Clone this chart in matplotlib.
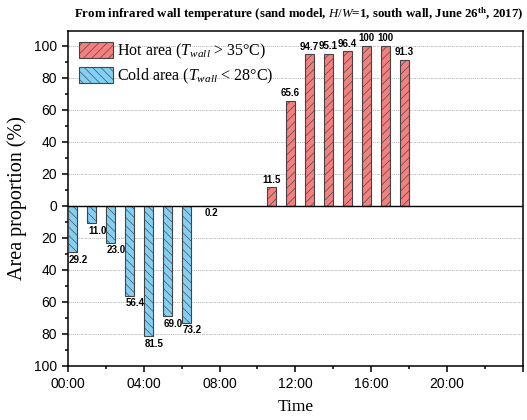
import numpy as np
import matplotlib.pyplot as plt
from matplotlib.patches import Patch
from matplotlib.ticker import MultipleLocator

plt.rcParams['font.family'] = 'Liberation Sans'
plt.rcParams['mathtext.fontset'] = 'custom'
plt.rcParams['mathtext.rm'] = 'Liberation Serif'
plt.rcParams['mathtext.it'] = 'Liberation Serif:italic'
plt.rcParams['mathtext.bf'] = 'Liberation Serif:bold'
plt.rcParams['hatch.linewidth'] = 0.45

# hour of day where each bar starts
cold_hours = [0, 1, 2, 3, 4, 5, 6, 7]
cold_vals = [29.2, 11.0, 23.0, 56.4, 81.5, 69.0, 73.2, 0.2]
hot_hours = [10.5, 11.5, 12.5, 13.5, 14.5, 15.5, 16.5, 17.5]
hot_vals = [11.5, 65.6, 94.7, 95.1, 96.4, 100, 100, 91.3]
hot_labels = ['11.5', '65.6', '94.7', '95.1', '96.4', '100', '100', '91.3']

hot_col = '#f47f7f'
cold_col = '#84d0f5'
edge = '#444444'
w = 0.5

fig = plt.figure(figsize=(5.27, 4.2), dpi=100)
ax = fig.add_axes([0.129, 0.129, 0.863, 0.798])

ax.bar(hot_hours, hot_vals, width=w, align='edge', color=hot_col,
       edgecolor=edge, linewidth=0.8, hatch='////', zorder=3)
ax.bar(cold_hours, -np.array(cold_vals), width=w, align='edge', color=cold_col,
       edgecolor=edge, linewidth=0.8, hatch='\\\\\\\\', zorder=3)

for x, v, s in zip(hot_hours, hot_vals, hot_labels):
    ax.text(x + w / 2, v + 1.5, s, ha='center', va='bottom',
            fontsize=7, fontweight='bold')
for x, v in zip(cold_hours, cold_vals):
    ax.text(x + w / 2 + 0.3, -v - 1.5, f'{v:.1f}', ha='center', va='top',
            fontsize=7, fontweight='bold')

ax.axhline(0, color='black', lw=1.0, zorder=4)
for y in [-80, -60, -40, -20, 20, 40, 60, 80, 100]:
    ax.axhline(y, color='#b4b4b4', lw=0.6, ls=(0, (2, 1, 1, 1)), zorder=1)

ax.set_xlim(0, 24)
ax.set_ylim(-100, 109.4)
ax.set_xticks(np.arange(0, 25, 4))
ax.set_xticklabels(['00:00', '04:00', '08:00', '12:00', '16:00', '20:00', ''])
ax.xaxis.set_minor_locator(MultipleLocator(2))
ax.set_yticks(np.arange(-100, 101, 20))
ax.set_yticklabels([str(abs(t)) for t in range(-100, 101, 20)])
ax.yaxis.set_minor_locator(MultipleLocator(10))
ax.tick_params(which='major', direction='out', length=4.5, width=1.1,
               labelsize=10, top=False, right=False)
ax.tick_params(which='minor', direction='out', length=2.5, width=1.1,
               top=False, right=False)
for s in ax.spines.values():
    s.set_linewidth(1.1)

ax.set_ylabel('Area proportion (%)', family='Liberation Serif', fontsize=14.5,
              labelpad=5)
ax.set_xlabel('Time', family='Liberation Serif', fontsize=12.5, labelpad=6)

fig.text(0.993, 0.965,
         r'From infrared wall temperature (sand model, $\mathit{H/W}$=1, '
         r'south wall, June 26$^{\mathbf{th}}$, 2017)',
         ha='right', va='center', family='Liberation Serif',
         fontweight='bold', fontsize=9.3)

handles = [
    Patch(facecolor=hot_col, edgecolor=edge, hatch='////', lw=0.8),
    Patch(facecolor=cold_col, edgecolor=edge, hatch='\\\\\\\\', lw=0.8),
]
labels = [r'Hot area ($T_{wall}$ > 35°C)', r'Cold area ($T_{wall}$ < 28°C)']
ax.legend(handles, labels, loc='upper left', frameon=False,
          prop={'family': 'Liberation Serif', 'size': 11.5},
          handlelength=2.1, handleheight=1.2, handletextpad=0.3,
          labelspacing=0.35, borderaxespad=0.3, bbox_to_anchor=(0.0, 1.0))

fig.savefig('out.png', dpi=100)
